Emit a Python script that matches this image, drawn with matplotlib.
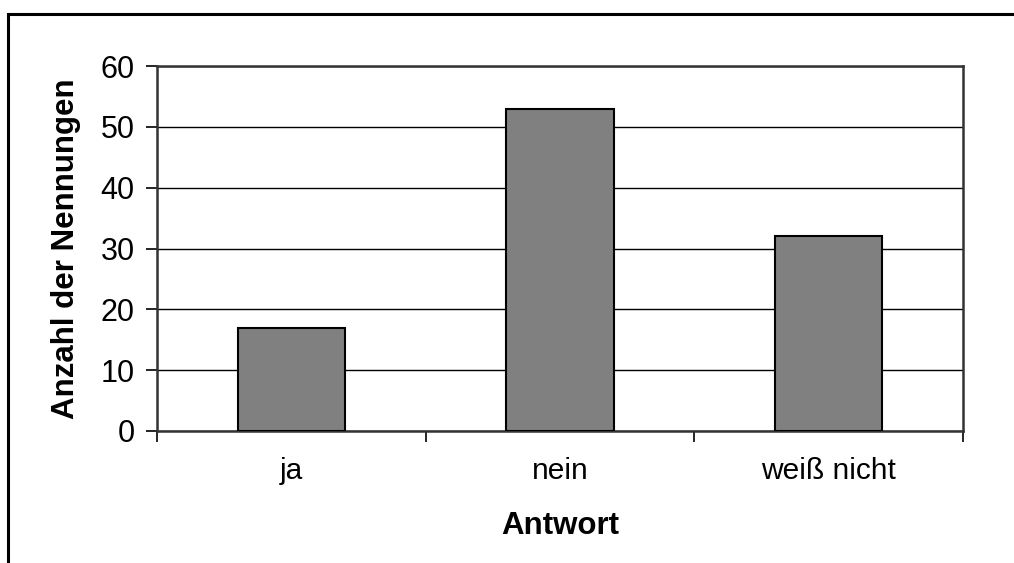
import numpy as np
import matplotlib.pyplot as plt
from matplotlib.patches import Rectangle

antworten = ['ja', 'nein', 'weiß nicht']
nennungen = [17, 53, 32]

plt.rcParams['font.family'] = ['Liberation Sans', 'DejaVu Sans']

fig = plt.figure(figsize=(10.14, 5.63), dpi=100)
# outer frame (only top and left edges visible in the picture)
fig.patches.append(Rectangle((8 / 1014, -0.2), 1.2, 0.2 + (563 - 14) / 563,
                             transform=fig.transFigure, fill=False,
                             edgecolor='black', linewidth=2.2))

ax = fig.add_axes([157 / 1014, 1 - 431 / 563, (963 - 157) / 1014, (431 - 66) / 563])
x = np.arange(len(antworten))
ax.bar(x, nennungen, width=0.4, color='#808080', edgecolor='black', linewidth=1.5, zorder=3)

ax.set_xlim(-0.5, 2.5)
ax.set_ylim(0, 60)
ax.set_yticks(range(0, 61, 10))
ax.set_xticks(x)
ax.set_xticklabels(antworten)
ax.set_xticks(np.arange(-0.5, 2.6, 1), minor=True)
ax.tick_params(axis='x', which='major', length=0, pad=19, labelsize=21.5)
ax.tick_params(axis='x', which='minor', length=8, width=1.2, direction='out')
ax.tick_params(axis='y', length=8, width=1.2, direction='out', pad=8, labelsize=22)
ax.grid(axis='y', color='black', linewidth=1, zorder=0)
for s in ax.spines.values():
    s.set_linewidth(1.8)
    s.set_color('#333333')

ax.set_ylabel('Anzahl der Nennungen', fontsize=22.5, fontweight='bold', va='center')
ax.yaxis.set_label_coords(-0.113, 0.5)
ax.set_xlabel('Antwort', fontsize=22.5, fontweight='bold')
ax.xaxis.set_label_coords(0.5, -0.26)
ax.xaxis.label.set_va('center')

plt.savefig('out.png', dpi=100)
